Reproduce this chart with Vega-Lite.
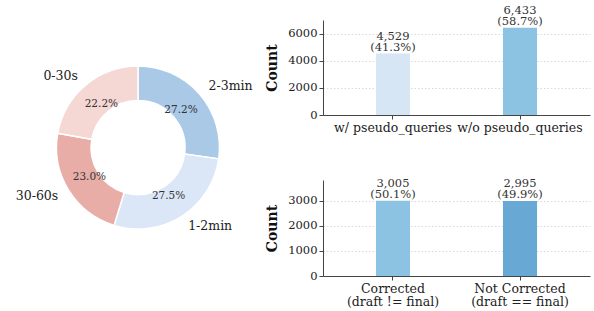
{
  "$schema": "https://vega.github.io/schema/vega-lite/v6.json",
  "padding": {"left": 0, "top": 4, "right": 4, "bottom": 2},
  "background": "white",
  "config": {
    "font": "DejaVu Serif",
    "view": {"stroke": null},
    "axis": {"domainColor": "#444", "tickColor": "#444", "labelColor": "#222", "titleColor": "#111", "labelFont": "DejaVu Serif", "titleFont": "DejaVu Serif"}
  },
  "resolve": {"scale": {"color": "independent"}},
  "bounds": "flush",
  "spacing": 47,
  "hconcat": [
    {
      "width": 276,
      "height": 255,
      "data": {"values": [
        {"cat": "2-3min", "pct": 27.2, "ord": 1},
        {"cat": "1-2min", "pct": 27.5, "ord": 2},
        {"cat": "30-60s", "pct": 23.0, "ord": 3},
        {"cat": "0-30s", "pct": 22.2, "ord": 4}
      ]},
      "transform": [{"calculate": "format(datum.pct, '.1f') + '%'", "as": "pctLabel"}],
      "encoding": {
        "theta": {"field": "pct", "type": "quantitative", "stack": true},
        "order": {"field": "ord", "type": "quantitative"}
      },
      "layer": [
        {
          "mark": {"type": "arc", "outerRadius": 81.5, "innerRadius": 47, "stroke": "white", "strokeWidth": 1.5},
          "encoding": {
            "color": {"field": "cat", "type": "nominal", "legend": null,
              "scale": {"domain": ["2-3min", "1-2min", "30-60s", "0-30s"], "range": ["#a9c9e7", "#dbe7f6", "#e7ada6", "#f5d7d3"]}}
          }
        },
        {
          "mark": {"type": "text", "radius": 57, "fontSize": 10.5, "color": "#333", "font": "DejaVu Serif"},
          "encoding": {"text": {"field": "pctLabel", "type": "nominal"}}
        },
        {
          "mark": {"type": "text", "radius": 93.5, "align": "left", "fontSize": 12.5, "color": "#222", "font": "DejaVu Serif"},
          "encoding": {"text": {"condition": {"test": "datum.cat === '2-3min' || datum.cat === '1-2min'", "field": "cat", "type": "nominal"}, "value": ""}}
        },
        {
          "mark": {"type": "text", "radius": 93.5, "align": "right", "fontSize": 12.5, "color": "#222", "font": "DejaVu Serif"},
          "encoding": {"text": {"condition": {"test": "datum.cat === '30-60s' || datum.cat === '0-30s'", "field": "cat", "type": "nominal"}, "value": ""}}
        }
      ]
    },
    {
      "bounds": "flush",
      "spacing": 65,
      "resolve": {"scale": {"color": "independent"}},
      "vconcat": [
        {
          "width": 267,
          "height": 95,
          "data": {"values": [
            {"group": "w/ pseudo_queries", "count": 4529, "share": 41.3},
            {"group": "w/o pseudo_queries", "count": 6433, "share": 58.7}
          ]},
          "transform": [
            {"calculate": "format(datum.count, ',')", "as": "countLabel"},
            {"calculate": "'(' + format(datum.share, '.1f') + '%)'", "as": "shareLabel"}
          ],
          "encoding": {
            "x": {"field": "group", "type": "nominal", "sort": null,
              "scale": {"paddingInner": 0.732, "paddingOuter": 0.417},
              "axis": {"title": null, "labelAngle": 0, "labelFontSize": 12.5, "tickSize": 4, "labelPadding": 2}},
            "y": {"field": "count", "type": "quantitative",
              "scale": {"domain": [0, 7000], "nice": false},
              "axis": {"title": "Count", "format": "d", "titleFontSize": 14, "titleFontWeight": "bold", "labelFontSize": 11.5, "values": [0, 2000, 4000, 6000], "tickSize": 4, "titlePadding": 8, "grid": true, "gridDash": [1.5, 2], "gridColor": "#cfcfcf", "gridWidth": 0.8, "labelPadding": 2}}
          },
          "layer": [
            {
              "mark": {"type": "bar"},
              "encoding": {
                "color": {"field": "group", "type": "nominal", "legend": null,
                  "scale": {"domain": ["w/ pseudo_queries", "w/o pseudo_queries"], "range": ["#d6e6f4", "#8cc2e2"]}}
              }
            },
            {
              "mark": {"type": "text", "baseline": "bottom", "dy": -12, "fontSize": 11.5, "color": "#333", "font": "DejaVu Serif"},
              "encoding": {"text": {"field": "countLabel", "type": "nominal"}}
            },
            {
              "mark": {"type": "text", "baseline": "bottom", "dy": -1, "fontSize": 11.5, "color": "#333", "font": "DejaVu Serif"},
              "encoding": {"text": {"field": "shareLabel", "type": "nominal"}}
            }
          ]
        },
        {
          "width": 267,
          "height": 96,
          "data": {"values": [
            {"group": "Corrected\n(draft != final)", "count": 3005, "share": 50.1},
            {"group": "Not Corrected\n(draft == final)", "count": 2995, "share": 49.9}
          ]},
          "transform": [
            {"calculate": "format(datum.count, ',')", "as": "countLabel"},
            {"calculate": "'(' + format(datum.share, '.1f') + '%)'", "as": "shareLabel"}
          ],
          "encoding": {
            "x": {"field": "group", "type": "nominal", "sort": null,
              "scale": {"paddingInner": 0.732, "paddingOuter": 0.417},
              "axis": {"title": null, "labelAngle": 0, "labelFontSize": 12.5, "tickSize": 4, "labelPadding": 2, "labelLineHeight": 13, "labelExpr": "split(datum.label, '\\n')"}},
            "y": {"field": "count", "type": "quantitative",
              "scale": {"domain": [0, 3830], "nice": false},
              "axis": {"title": "Count", "format": "d", "titleFontSize": 14, "titleFontWeight": "bold", "labelFontSize": 11.5, "values": [0, 1000, 2000, 3000], "tickSize": 4, "titlePadding": 8, "grid": true, "gridDash": [1.5, 2], "gridColor": "#cfcfcf", "gridWidth": 0.8, "labelPadding": 2}}
          },
          "layer": [
            {
              "mark": {"type": "bar"},
              "encoding": {
                "color": {"field": "group", "type": "nominal", "legend": null,
                  "scale": {"domain": ["Corrected\n(draft != final)", "Not Corrected\n(draft == final)"], "range": ["#8cc2e2", "#67a8d5"]}}
              }
            },
            {
              "mark": {"type": "text", "baseline": "bottom", "dy": -12, "fontSize": 11.5, "color": "#333", "font": "DejaVu Serif"},
              "encoding": {"text": {"field": "countLabel", "type": "nominal"}}
            },
            {
              "mark": {"type": "text", "baseline": "bottom", "dy": -1, "fontSize": 11.5, "color": "#333", "font": "DejaVu Serif"},
              "encoding": {"text": {"field": "shareLabel", "type": "nominal"}}
            }
          ]
        }
      ]
    }
  ]
}
